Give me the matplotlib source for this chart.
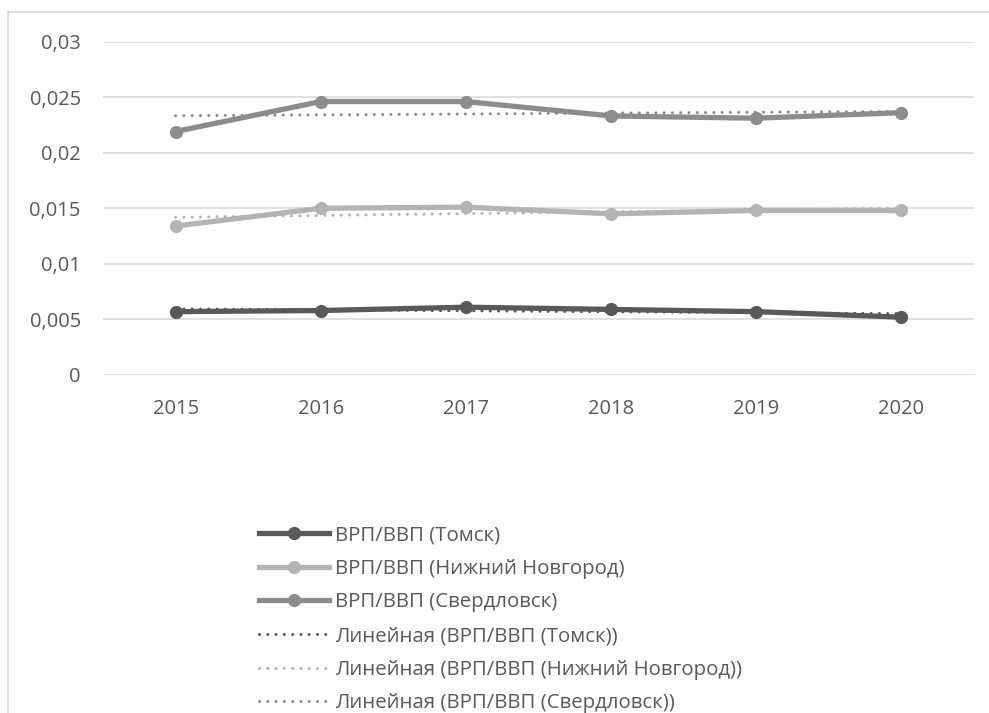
import numpy as np
import matplotlib
matplotlib.use("Agg")
import matplotlib.pyplot as plt
from matplotlib.lines import Line2D

plt.rcParams['font.family'] = ['Open Sans', 'DejaVu Sans']

# ВРП/ВВП по регионам
years = ['2015', '2016', '2017', '2018', '2019', '2020']
tomsk = [0.0057, 0.0058, 0.0061, 0.0059, 0.0057, 0.0052]
nnovgorod = [0.0134, 0.0150, 0.0151, 0.0145, 0.0148, 0.0148]
sverdlovsk = [0.0219, 0.0246, 0.0246, 0.0233, 0.0231, 0.0236]

series_names = ['ВРП/ВВП (Томск)', 'ВРП/ВВП (Нижний Новгород)', 'ВРП/ВВП (Свердловск)']
y_ticks = [0, 0.005, 0.01, 0.015, 0.02, 0.025, 0.03]
y_tick_labels = ['0', '0,005', '0,01', '0,015', '0,02', '0,025', '0,03']

colors = ['#595959', '#b4b4b4', '#8c8c8c']
text_color = '#595959'
grid_color = '#d9d9d9'

W, H = 989, 713
fig = plt.figure(figsize=(W / 100, H / 100), dpi=100)
ax = fig.add_axes([103 / W, 1 - 375 / H, (974 - 103) / W, (375 - 41.5) / H])

x = np.arange(len(years))
data = [tomsk, nnovgorod, sverdlovsk]

handles = []
for vals, c, name in zip(data, colors, series_names):
    h, = ax.plot(x, vals, color=c, lw=3.8, marker='o', markersize=8.5,
                 solid_joinstyle='round', label=name, zorder=3)
    handles.append(h)

# линейные тренды
for vals, c, name in zip(data, colors, series_names):
    k, b = np.polyfit(x, vals, 1)
    h, = ax.plot(x, k * x + b, color=c, lw=2.2, linestyle=(0, (0.01, 2.7)),
                 dash_capstyle='round', label='Линейная (' + name + ')', zorder=4)
    handles.append(h)

ax.set_xlim(-0.5, len(years) - 0.5)
ax.set_ylim(0, 0.03)
ax.set_xticks(x)
ax.set_xticklabels(years)
ax.set_yticks(y_ticks)
ax.set_yticklabels(y_tick_labels)
ax.tick_params(axis='both', length=0, labelsize=14.5, colors=text_color)
ax.tick_params(axis='y', pad=16)
ax.tick_params(axis='x', pad=17)
ax.grid(axis='y', color=grid_color, lw=1.1)
ax.set_axisbelow(True)
for s in ax.spines.values():
    s.set_visible(False)

leg = fig.legend(handles=handles, loc='upper left',
                 bbox_to_anchor=(259 / W, 1 - 525 / H),
                 frameon=False, fontsize=14.7, handlelength=3.45,
                 handletextpad=0.25, labelspacing=0.67, borderpad=0,
                 borderaxespad=0)
for t in leg.get_texts():
    t.set_color(text_color)

# рамка области диаграммы
fig.add_artist(Line2D([8 / W, 1], [1 - 12 / H, 1 - 12 / H], color=grid_color, lw=1.2))
fig.add_artist(Line2D([8 / W, 8 / W], [0, 1 - 12 / H], color=grid_color, lw=1.2))

fig.savefig('out.png', dpi=100)
